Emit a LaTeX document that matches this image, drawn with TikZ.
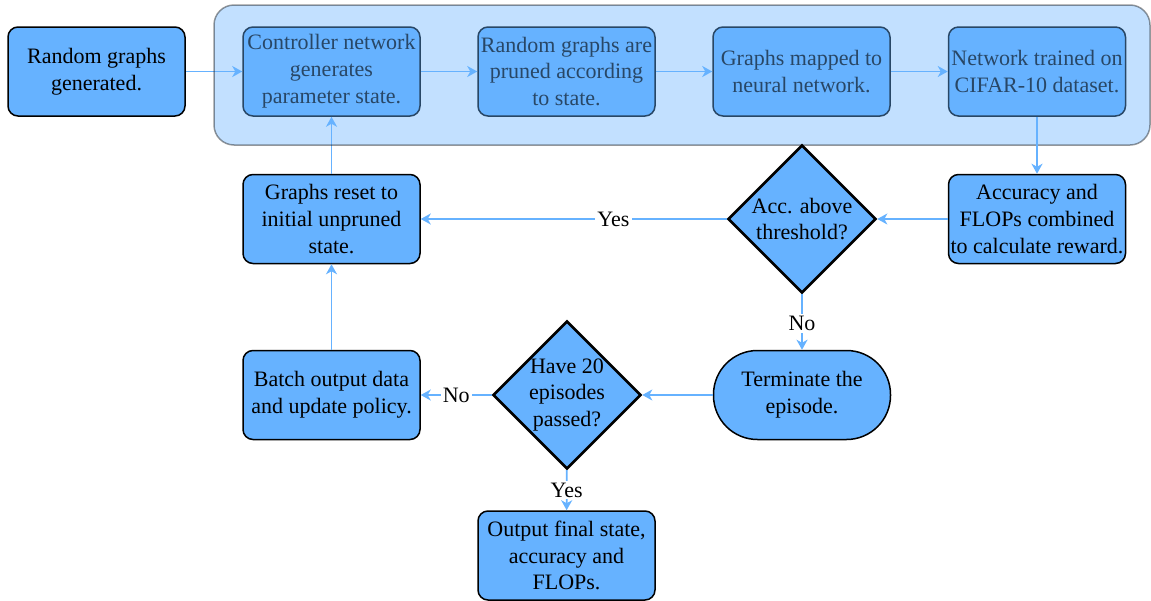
\documentclass[tikz,border=0pt]{standalone}
\usepackage{fontspec}
\setmainfont{Liberation Serif}
\usetikzlibrary{shapes.geometric,arrows.meta}
\definecolor{boxblue}{HTML}{66B2FF}
\begin{document}
\begin{tikzpicture}[x=0.5pt,y=-0.5pt,
 every node/.style={font=\fontsize{11}{13.4}\selectfont},
 proc/.style={draw=black, line width=0.75pt, fill=boxblue, rounded corners=5pt, minimum width=88.5pt, minimum height=44.5pt, align=center, inner sep=0pt},
 dec/.style={draw=black, line width=1.3pt, fill=boxblue, diamond, minimum width=74pt, minimum height=74pt, inner sep=0pt},
 term/.style={proc, rounded corners=22pt},
 conn/.style={draw=boxblue, line width=0.9pt, -{Stealth[length=5pt,width=5.5pt,inset=1.5pt]}},
 lbl/.style={fill=white, inner sep=1pt},
 dtext/.style={align=center, inner sep=0pt}
]
\useasboundingbox (0,0) rectangle (1151,600);
% top row
\node[proc] (rg) at (96.5,71.5) {Random graphs\\generated.};
\node[proc] (cn) at (331.5,71.5) {Controller network\\generates\\parameter state.};
\node[proc] (pr) at (566.5,71.5) {Random graphs are\\pruned according\\to state.};
\node[proc] (gm) at (801.5,71.5) {Graphs mapped to\\neural network.};
\node[proc] (nt) at (1037,71.5) {Network trained on\\CIFAR-10 dataset.};
\node[proc] (gr) at (331.5,219) {Graphs reset to\\initial unpruned\\state.};
\draw[conn] (rg) -- (cn);
\draw[conn] (cn) -- (pr);
\draw[conn] (pr) -- (gm);
\draw[conn] (gm) -- (nt);
\draw[conn] (gr) -- (cn);
% group overlay
\path[fill=boxblue, draw=black, opacity=0.4, rounded corners=10pt, line width=0.75pt] (214,5) rectangle (1150,145);
% rest
\node[proc] (ac) at (1037,219) {Accuracy and\\FLOPs combined\\to calculate reward.};
\node[dec, label={[dtext]center:{Acc. above\\threshold?}}] (d1) at (802,219) {};
\node[term] (te) at (802,395) {Terminate the\\episode.};
\node[dec, label={[dtext]center:{Have 20\\episodes\\passed?}}] (d2) at (567,395) {};
\node[proc] (bo) at (331.5,395) {Batch output data\\and update policy.};
\node[proc] (of) at (566.5,555.5) {Output final state,\\accuracy and\\FLOPs.};
\draw[conn] (nt) -- (ac);
\draw[conn] (ac) -- (d1);
\draw[conn] (d1) -- node[lbl, pos=0.37]{Yes} (gr);
\draw[conn] (d1) -- node[lbl, pos=0.53]{No} (te);
\draw[conn] (te) -- (d2);
\draw[conn] (d2) -- node[lbl]{No} (bo);
\draw[conn] (d2) -- node[lbl]{Yes} (of);
\draw[conn] (bo) -- (gr);
\end{tikzpicture}
\end{document}
